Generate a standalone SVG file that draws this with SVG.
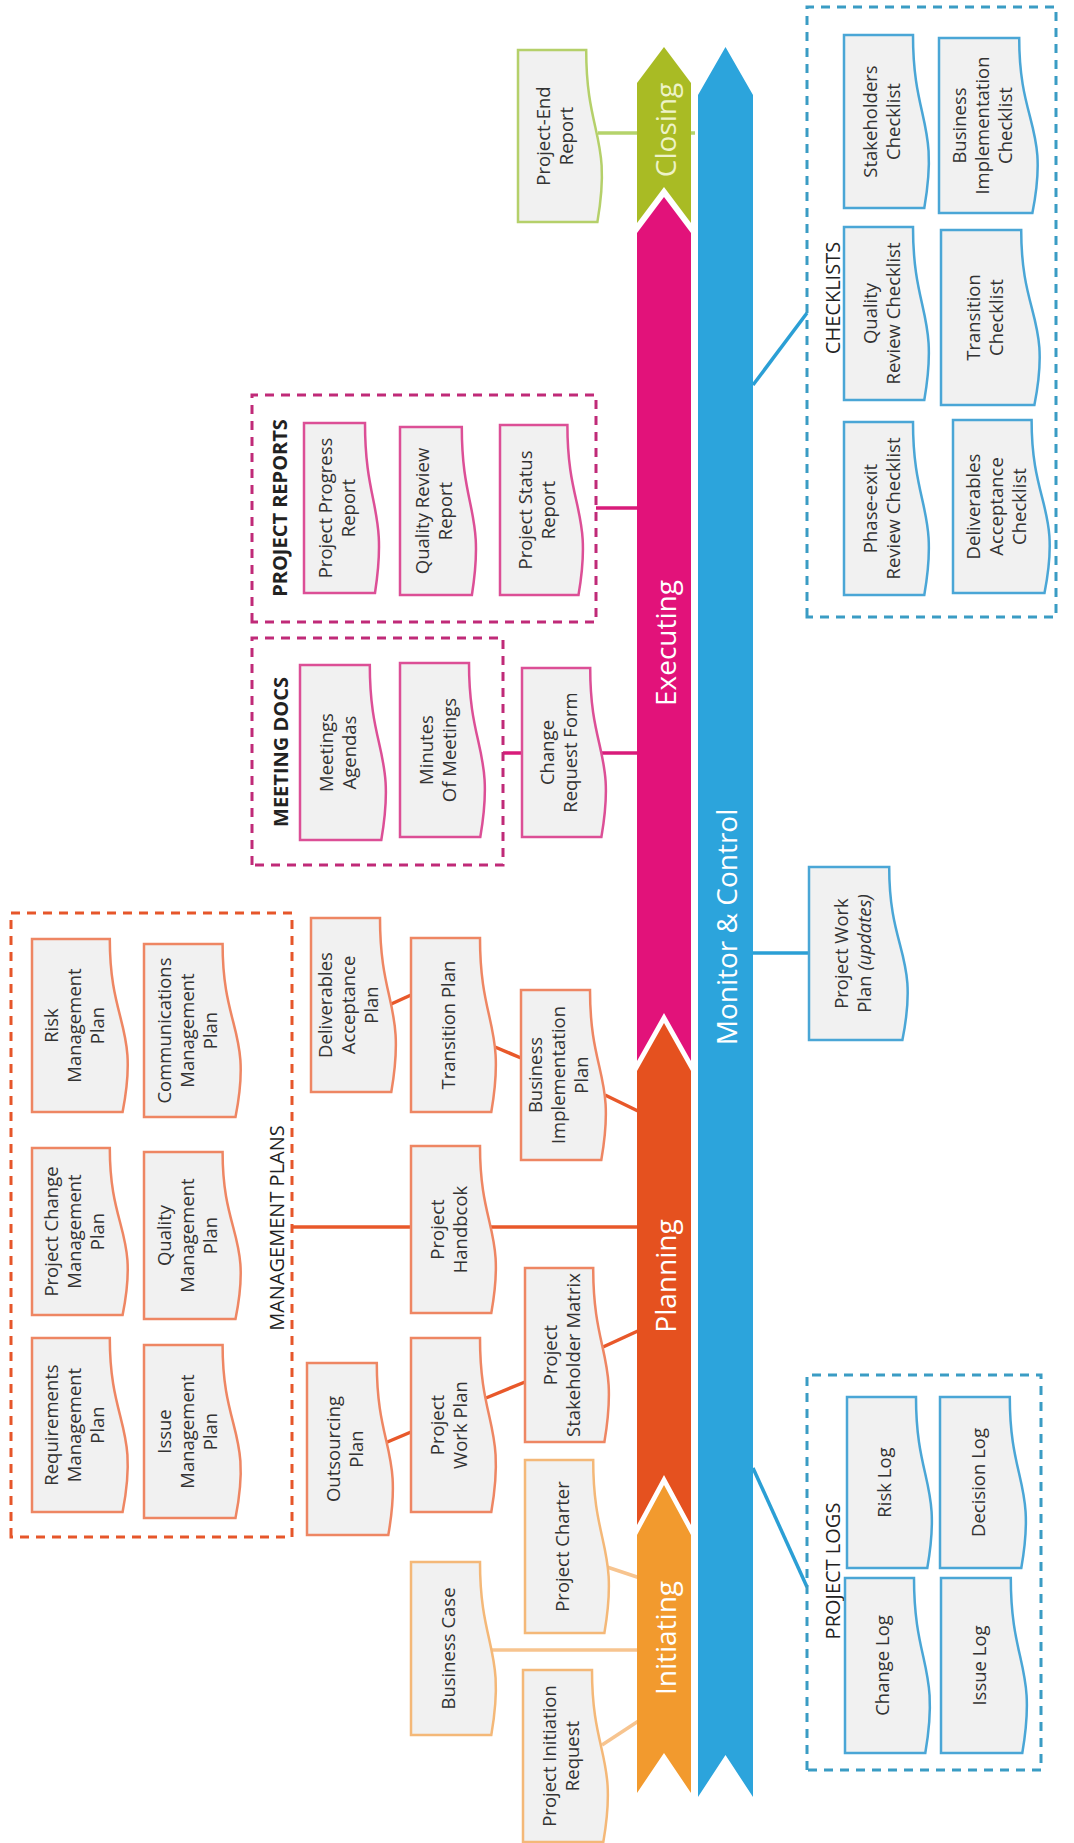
<svg xmlns="http://www.w3.org/2000/svg" width="1074" height="1843" viewBox="0 0 1074 1843">
<style>
.doc{fill:#f1f1f1;stroke-width:2.5}
.ini{stroke:#f4b878}.pln{stroke:#ee8663}.exe{stroke:#dc4f96}.clo{stroke:#b5d06a}.mc{stroke:#4aa6d6}
.t{font-family:"Open Sans","Liberation Sans",sans-serif;font-size:18.5px;fill:#333;text-anchor:middle}
.ph{font-family:"Open Sans","Liberation Sans",sans-serif;font-size:28px;fill:#fff;text-anchor:middle}
.sec{font-family:"Open Sans","Liberation Sans",sans-serif;font-size:20px;fill:#222;text-anchor:middle}
.secb{font-family:"Open Sans","Liberation Sans",sans-serif;font-size:20px;font-weight:bold;fill:#222;text-anchor:middle}
.box{fill:none;stroke-width:3;stroke-dasharray:9 7}
.c{fill:none;stroke-width:3.5}
</style>
<g transform="translate(0,1843) rotate(-90)">
<g id="connectors">
<line class="c" stroke="#f7c48f" x1="193" y1="490" x2="193" y2="640"/>
<line class="c" stroke="#f7c48f" x1="276" y1="607" x2="265" y2="640"/>
<line class="c" stroke="#f7c48f" x1="98" y1="602" x2="123" y2="640"/>
<line class="c" stroke="#e8582a" x1="616" y1="292" x2="616" y2="640"/>
<line class="c" stroke="#e8582a" x1="400" y1="385" x2="411" y2="411"/>
<line class="c" stroke="#e8582a" x1="445" y1="486" x2="461" y2="525"/>
<line class="c" stroke="#e8582a" x1="496" y1="603" x2="513" y2="640"/>
<line class="c" stroke="#e8582a" x1="748" y1="605" x2="731" y2="640"/>
<line class="c" stroke="#e8582a" x1="796" y1="495" x2="785" y2="521"/>
<line class="c" stroke="#e8582a" x1="838" y1="389" x2="848" y2="411"/>
<line class="c" stroke="#d81b7a" x1="1090" y1="503" x2="1090" y2="640"/>
<line class="c" stroke="#d81b7a" x1="1335" y1="596" x2="1335" y2="640"/>
<line class="c" stroke="#b5d36b" x1="1710" y1="598" x2="1710" y2="695"/>
<line class="c" stroke="#2b9fd5" x1="375" y1="753" x2="256" y2="807"/>
<line class="c" stroke="#2b9fd5" x1="890" y1="753" x2="890" y2="809"/>
<line class="c" stroke="#2b9fd5" x1="1458" y1="753" x2="1530" y2="807"/>
</g>
<g id="phase-closing"><polygon fill="#a9bb24" points="1620,637 1760,637 1796,664 1760,691 1620,691 1656,664"/><text class="ph" x="1713" y="676" fill="#eef3c8" style="fill:#eef3c8">Closing</text></g>
<g id="phase-executing"><polygon fill="#e2127a" points="782,637 1610,637 1646,664 1610,691 782,691 830,664"/><text class="ph" x="1200" y="676">Executing</text></g>
<g id="phase-planning"><polygon fill="#e5511f" points="318,637 772,637 820,664 772,691 318,691 368,664"/><text class="ph" x="567" y="676">Planning</text></g>
<g id="phase-initiating"><polygon fill="#f29a2e" points="50,637 308,637 358,664 308,691 50,691 90,664"/><text class="ph" x="205" y="676">Initiating</text></g>
<g id="monitor-control"><polygon fill="#2ca4dc" points="46,698 1748,698 1796,725.5 1748,753 46,753 88,725.5"/><text class="ph" x="916" y="737">Monitor &amp; Control</text></g>

<g id="management-plans"><rect class="box" stroke="#e6562a" x="306" y="11" width="624" height="281"/><text class="sec" x="615" y="284">MANAGEMENT PLANS</text></g>
<g id="meeting-docs"><rect class="box" stroke="#c02a78" x="978" y="252" width="227" height="251"/><text class="secb" x="1091" y="288">MEETING DOCS</text></g>
<g id="project-reports"><rect class="box" stroke="#c02a78" x="1221" y="252" width="227" height="344"/><text class="secb" x="1335" y="287">PROJECT REPORTS</text></g>
<g id="project-logs"><rect class="box" stroke="#3a9cc4" x="73" y="807" width="395" height="234"/><text class="sec" x="272" y="840">PROJECT LOGS</text></g>
<g id="checklists"><rect class="box" stroke="#3a9cc4" x="1226" y="807" width="610" height="249"/><text class="sec" x="1545" y="840">CHECKLISTS</text></g>

<g id="project-initiation-request"><path class="doc ini" d="M1,523 H173 V592 C87,592 87,618.2 1,603.3 Z"/><text class="t" x="87" y="556">Project Initiation</text><text class="t" x="87" y="579">Request</text></g>
<g id="business-case"><path class="doc ini" d="M108,411 H281 V480 C194.5,480 194.5,506.2 108,491.3 Z"/><text class="t" x="194.5" y="455">Business Case</text></g>
<g id="project-charter"><path class="doc ini" d="M210,525 H383 V593.2 C296.5,593.2 296.5,619.1 210,604.4 Z"/><text class="t" x="296.5" y="569">Project Charter</text></g>

<g id="outsourcing-plan"><path class="doc pln" d="M308,307 H480 V376.8 C394,376.8 394,403.3 308,388.3 Z"/><text class="t" x="394" y="340">Outsourcing</text><text class="t" x="394" y="363">Plan</text></g>
<g id="project-work-plan"><path class="doc pln" d="M331,411 H505 V480 C418,480 418,506.2 331,491.3 Z"/><text class="t" x="418" y="444">Project</text><text class="t" x="418" y="467">Work Plan</text></g>
<g id="project-stakeholder-matrix"><path class="doc pln" d="M401,525 H575 V593.2 C488,593.2 488,619.1 401,604.4 Z"/><text class="t" x="488" y="557">Project</text><text class="t" x="488" y="580">Stakeholder Matrix</text></g>
<g id="project-handbook"><path class="doc pln" d="M530,411 H697 V480 C613.5,480 613.5,506.2 530,491.3 Z"/><text class="t" x="613.5" y="444">Project</text><text class="t" x="613.5" y="467">Handbcok</text></g>
<g id="business-implementation-plan"><path class="doc pln" d="M683,521 H853 V590 C768,590 768,616.2 683,601.3 Z"/><text class="t" x="768" y="542">Business</text><text class="t" x="768" y="565">Implementation</text><text class="t" x="768" y="588">Plan</text></g>
<g id="transition-plan"><path class="doc pln" d="M731,411 H905 V480 C818,480 818,506.2 731,491.3 Z"/><text class="t" x="818" y="455">Transition Plan</text></g>
<g id="deliverables-acceptance-plan"><path class="doc pln" d="M751,311 H925 V380 C838,380 838,406.2 751,391.3 Z"/><text class="t" x="838" y="332">Deliverables</text><text class="t" x="838" y="355">Acceptance</text><text class="t" x="838" y="378">Plan</text></g>
<g id="requirements-management-plan"><path class="doc pln" d="M331,32 H505 V109.8 C418,109.8 418,139.4 331,122.6 Z"/><text class="t" x="418" y="58">Requirements</text><text class="t" x="418" y="81">Management</text><text class="t" x="418" y="104">Plan</text></g>
<g id="project-change-management-plan"><path class="doc pln" d="M528,32 H695 V109.8 C611.5,109.8 611.5,139.4 528,122.6 Z"/><text class="t" x="611.5" y="58">Project Change</text><text class="t" x="611.5" y="81">Management</text><text class="t" x="611.5" y="104">Plan</text></g>
<g id="risk-management-plan"><path class="doc pln" d="M731,32 H904 V109.8 C817.5,109.8 817.5,139.4 731,122.6 Z"/><text class="t" x="817.5" y="58">Risk</text><text class="t" x="817.5" y="81">Management</text><text class="t" x="817.5" y="104">Plan</text></g>
<g id="issue-management-plan"><path class="doc pln" d="M325,144 H498 V222.6 C411.5,222.6 411.5,252.5 325,235.5 Z"/><text class="t" x="411.5" y="171">Issue</text><text class="t" x="411.5" y="194">Management</text><text class="t" x="411.5" y="217">Plan</text></g>
<g id="quality-management-plan"><path class="doc pln" d="M524,144 H691 V222.6 C607.5,222.6 607.5,252.5 524,235.5 Z"/><text class="t" x="607.5" y="171">Quality</text><text class="t" x="607.5" y="194">Management</text><text class="t" x="607.5" y="217">Plan</text></g>
<g id="communications-management-plan"><path class="doc pln" d="M726,144 H899 V222.6 C812.5,222.6 812.5,252.5 726,235.5 Z"/><text class="t" x="812.5" y="171">Communications</text><text class="t" x="812.5" y="194">Management</text><text class="t" x="812.5" y="217">Plan</text></g>

<g id="meetings-agendas"><path class="doc exe" d="M1003,300 H1178 V369.8 C1090.5,369.8 1090.5,396.3 1003,381.3 Z"/><text class="t" x="1090.5" y="333">Meetings</text><text class="t" x="1090.5" y="356">Agendas</text></g>
<g id="minutes-of-meetings"><path class="doc exe" d="M1006,400 H1180 V469 C1093,469 1093,495.2 1006,480.3 Z"/><text class="t" x="1093" y="433">Minutes</text><text class="t" x="1093" y="456">Of Meetings</text></g>
<g id="change-request-form"><path class="doc exe" d="M1006,522 H1175 V590.2 C1090.5,590.2 1090.5,616.1 1006,601.4 Z"/><text class="t" x="1090.5" y="554">Change</text><text class="t" x="1090.5" y="577">Request Form</text></g>
<g id="project-progress-report"><path class="doc exe" d="M1250,304 H1420 V365 C1335,365 1335,388.1 1250,375 Z"/><text class="t" x="1335" y="332">Project Progress</text><text class="t" x="1335" y="355">Report</text></g>
<g id="quality-review-report"><path class="doc exe" d="M1248,400 H1416 V461.8 C1332,461.8 1332,485.2 1248,471.9 Z"/><text class="t" x="1332" y="429">Quality Review</text><text class="t" x="1332" y="452">Report</text></g>
<g id="project-status-report"><path class="doc exe" d="M1248,500 H1418 V567.4 C1333,567.4 1333,593 1248,578.5 Z"/><text class="t" x="1333" y="532">Project Status</text><text class="t" x="1333" y="555">Report</text></g>

<g id="project-end-report"><path class="doc clo" d="M1621,518 H1793 V586.2 C1707,586.2 1707,612.1 1621,597.4 Z"/><text class="t" x="1707" y="550">Project-End</text><text class="t" x="1707" y="573">Report</text></g>

<g id="change-log"><path class="doc mc" d="M90,845 H265 V914 C177.5,914 177.5,940.2 90,925.3 Z"/><text class="t" x="177.5" y="889">Change Log</text></g>
<g id="risk-log"><path class="doc mc" d="M275,847 H446 V916 C360.5,916 360.5,942.2 275,927.3 Z"/><text class="t" x="360.5" y="891">Risk Log</text></g>
<g id="issue-log"><path class="doc mc" d="M90,941 H265 V1010.8 C177.5,1010.8 177.5,1037.3 90,1022.3 Z"/><text class="t" x="177.5" y="986">Issue Log</text></g>
<g id="decision-log"><path class="doc mc" d="M275,940 H446 V1009.8 C360.5,1009.8 360.5,1036.3 275,1021.3 Z"/><text class="t" x="360.5" y="985">Decision Log</text></g>
<g id="project-work-plan-updates"><path class="doc mc" d="M803,809 H976 V889.2 C889.5,889.2 889.5,919.7 803,902.4 Z"/><text class="t" x="889.5" y="848">Project Work</text><text class="t" x="889.5" y="871">Plan <tspan font-style="italic">(updates)</tspan></text></g>
<g id="phase-exit-review-checklist"><path class="doc mc" d="M1248,844 H1421 V913 C1334.5,913 1334.5,939.2 1248,924.3 Z"/><text class="t" x="1334.5" y="877">Phase-exit</text><text class="t" x="1334.5" y="900">Review Checklist</text></g>
<g id="quality-review-checklist"><path class="doc mc" d="M1443,844 H1616 V913 C1529.5,913 1529.5,939.2 1443,924.3 Z"/><text class="t" x="1529.5" y="877">Quality</text><text class="t" x="1529.5" y="900">Review Checklist</text></g>
<g id="stakeholders-checklist"><path class="doc mc" d="M1635,844 H1808 V913 C1721.5,913 1721.5,939.2 1635,924.3 Z"/><text class="t" x="1721.5" y="877">Stakeholders</text><text class="t" x="1721.5" y="900">Checklist</text></g>
<g id="deliverables-acceptance-checklist"><path class="doc mc" d="M1250,953 H1423 V1031.6 C1336.5,1031.6 1336.5,1061.5 1250,1044.5 Z"/><text class="t" x="1336.5" y="980">Deliverables</text><text class="t" x="1336.5" y="1003">Acceptance</text><text class="t" x="1336.5" y="1026">Checklist</text></g>
<g id="transition-checklist"><path class="doc mc" d="M1438,941 H1613 V1021.2 C1525.5,1021.2 1525.5,1051.7 1438,1034.4 Z"/><text class="t" x="1525.5" y="980">Transition</text><text class="t" x="1525.5" y="1003">Checklist</text></g>
<g id="business-implementation-checklist"><path class="doc mc" d="M1630,939 H1805 V1019.2 C1717.5,1019.2 1717.5,1049.7 1630,1032.4 Z"/><text class="t" x="1717.5" y="966">Business</text><text class="t" x="1717.5" y="989">Implementation</text><text class="t" x="1717.5" y="1012">Checklist</text></g>
</g>
</svg>
